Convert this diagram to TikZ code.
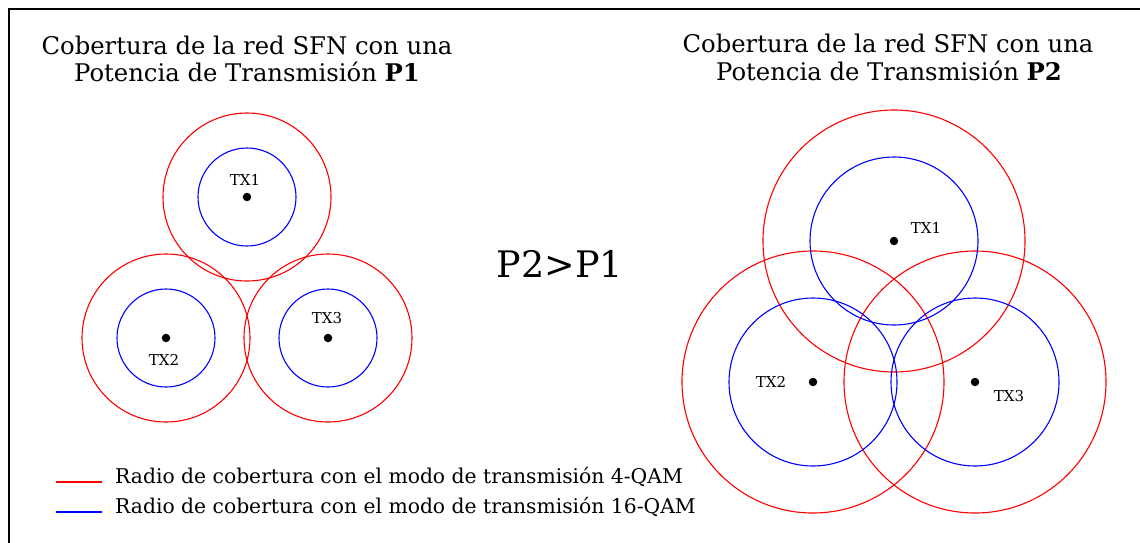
\documentclass[tikz,border=0pt]{standalone}
\usepackage{fontspec}
\setmainfont{DejaVu Serif}
\begin{document}
\begin{tikzpicture}[x=1pt,y=-1pt,
  big/.style={draw=red, line width=1.1pt},
  small/.style={draw=blue, line width=1.1pt},
  legline/.style={line width=1.6pt},
  txdot/.style={circle, fill=black, inner sep=0pt, minimum size=8.5pt},
  txlab/.style={font=\fontsize{15}{15}\selectfont, inner sep=0pt},
  title/.style={font=\fontsize{24.3}{27}\selectfont, align=center, inner sep=0pt},
  legtext/.style={font=\fontsize{20.3}{20.3}\selectfont, anchor=base west, inner sep=0pt},
  frame/.style={line width=2pt, line cap=rect}]
\useasboundingbox (0,0) rectangle (1140,542);
% frame
\coordinate (fc) at (9,9);
\coordinate (fr) at (1141,9);
\coordinate (fb) at (9,543);
\draw[frame] (fr) -- (fc) -- (fb);
% titles
\node[title, anchor=base] (t1a) at (247,54) {Cobertura de la red SFN con una};
\node[title, anchor=base] (t1b) at (247,81) {Potencia de Transmisión \textbf{P1}};
\node[title, anchor=base] (t2a) at (888,52) {Cobertura de la red SFN con una};
\node[title, anchor=base] (t2b) at (889,80) {Potencia de Transmisión \textbf{P2}};
\node[font=\fontsize{36.5}{36.5}\selectfont, anchor=base, inner sep=0pt] (cmp) at (560,277) {P2>P1};
% left: P1
\node[txdot] (a1) at (247,197) {};
\node[txdot] (a2) at (166,338) {};
\node[txdot] (a3) at (328,338) {};
\draw[big] (a1) circle (84);
\draw[big] (a2) circle (84);
\draw[big] (a3) circle (84);
\draw[small] (a1) circle (49);
\draw[small] (a2) circle (49);
\draw[small] (a3) circle (49);
\node[txlab] (la1) at (245,180) {TX1};
\node[txlab] (la2) at (164,360) {TX2};
\node[txlab] (la3) at (327,318) {TX3};
% right: P2
\node[txdot] (b1) at (894,241) {};
\node[txdot] (b2) at (813,382) {};
\node[txdot] (b3) at (975,382) {};
\draw[big] (b1) circle (131);
\draw[big] (b2) circle (131);
\draw[big] (b3) circle (131);
\draw[small] (b1) circle (84);
\draw[small] (b2) circle (84);
\draw[small] (b3) circle (84);
\node[txlab] (lb1) at (926,228) {TX1};
\node[txlab] (lb2) at (771,382) {TX2};
\node[txlab] (lb3) at (1009,396) {TX3};
% legend
\coordinate (r1) at (56,482);
\coordinate (r2) at (102,482);
\coordinate (u1) at (56,512);
\coordinate (u2) at (102,512);
\draw[big, legline] (r1) -- (r2);
\draw[small, legline] (u1) -- (u2);
\node[legtext] (lg1) at (115,483) {Radio de cobertura con el modo de transmisión 4-QAM};
\node[legtext] (lg2) at (115,513) {Radio de cobertura con el modo de transmisión 16-QAM};
\end{tikzpicture}
\end{document}
